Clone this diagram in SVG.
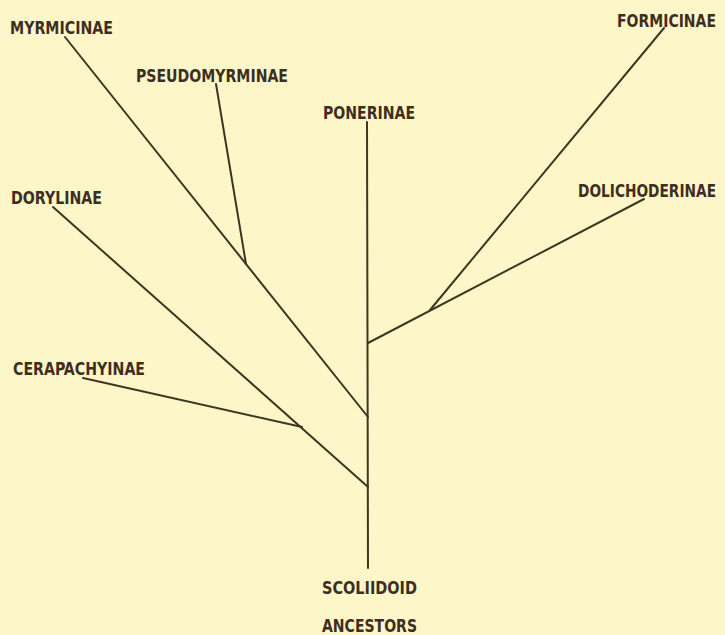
<svg xmlns="http://www.w3.org/2000/svg" width="725" height="635" viewBox="0 0 725 635">
<style>
.bg{fill:#fdf6c9}
.ln{stroke:#45331f;stroke-width:2;fill:none;stroke-linecap:round}
.lb{font-family:"Liberation Sans Narrow","DejaVu Sans Condensed","Liberation Sans",sans-serif;font-weight:bold;font-size:18px;fill:#3e2e20}
.end{text-anchor:end}
</style>
<rect class="bg" x="0" y="0" width="725" height="635"/>
<g id="connectors">
<line class="ln" x1="367" y1="122" x2="368" y2="568"/>
<line class="ln" x1="65" y1="37" x2="368" y2="417"/>
<line class="ln" x1="216" y1="84" x2="246" y2="264"/>
<line class="ln" x1="53" y1="207" x2="368" y2="487"/>
<line class="ln" x1="83" y1="378" x2="302" y2="427"/>
<line class="ln" x1="644" y1="199" x2="368" y2="343"/>
<line class="ln" x1="664" y1="28" x2="430" y2="310"/>
</g>
<g id="myrmicinae"><text class="lb" x="10" y="34" textLength="103" lengthAdjust="spacingAndGlyphs">MYRMICINAE</text></g>
<g id="pseudomyrminae"><text class="lb" x="136" y="82" textLength="152" lengthAdjust="spacingAndGlyphs">PSEUDOMYRMINAE</text></g>
<g id="ponerinae"><text class="lb" x="323" y="119" textLength="92" lengthAdjust="spacingAndGlyphs">PONERINAE</text></g>
<g id="formicinae"><text class="lb end" x="716" y="27" textLength="99" lengthAdjust="spacingAndGlyphs">FORMICINAE</text></g>
<g id="dorylinae"><text class="lb" x="11" y="204" textLength="91" lengthAdjust="spacingAndGlyphs">DORYLINAE</text></g>
<g id="dolichoderinae"><text class="lb end" x="716" y="197" textLength="138" lengthAdjust="spacingAndGlyphs">DOLICHODERINAE</text></g>
<g id="cerapachyinae"><text class="lb" x="13" y="375" textLength="132" lengthAdjust="spacingAndGlyphs">CERAPACHYINAE</text></g>
<g id="ancestors">
<text class="lb" x="322" y="594" textLength="95" lengthAdjust="spacingAndGlyphs">SCOLIIDOID</text>
<text class="lb" x="322" y="632" textLength="95" lengthAdjust="spacingAndGlyphs">ANCESTORS</text>
</g>
</svg>
